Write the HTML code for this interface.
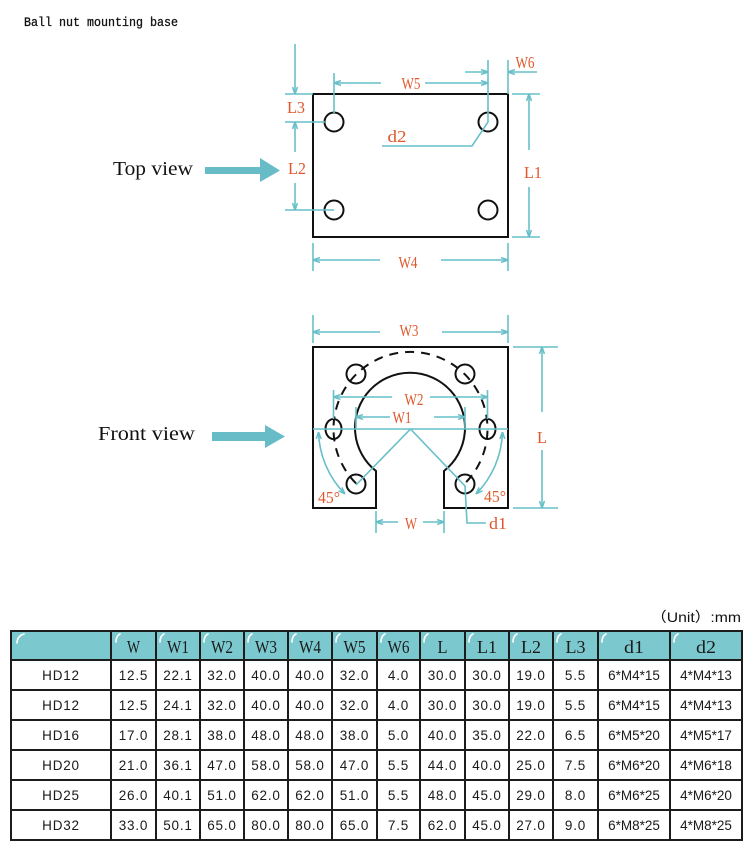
<!DOCTYPE html>
<html><head><meta charset="utf-8"><style>
html,body{margin:0;padding:0;background:#fff;}
svg{display:block;}
.t{fill:none;stroke:#67bfc8;stroke-width:1.6;}
.k{fill:none;stroke:#111;stroke-width:2;}
.o{font-family:"Liberation Serif",serif;font-size:17px;fill:#e0572b;text-anchor:middle;}
.h{font-family:"Liberation Serif",serif;font-size:18px;fill:#1a1a1a;text-anchor:middle;}
.d{font-family:"Liberation Sans","Noto Sans CJK SC",sans-serif;font-size:13.5px;fill:#1a1a1a;text-anchor:middle;letter-spacing:0.8px;}
</style></head><body>
<svg width="750" height="860" viewBox="0 0 750 860" xmlns="http://www.w3.org/2000/svg">
<defs>
<marker id="ar" viewBox="0 0 10 10" refX="10" refY="5" markerWidth="7" markerHeight="7" orient="auto-start-reverse" markerUnits="userSpaceOnUse">
<path d="M0,1.5 L10,5 L0,8.5" fill="none" stroke="#67bfc8" stroke-width="2.2"/>
</marker>
</defs>

<text x="24" y="26" font-family="Liberation Mono, monospace" font-size="12.5" fill="#111" stroke="#111" stroke-width="0.3" textLength="154" lengthAdjust="spacingAndGlyphs">Ball nut mounting base</text>

<text x="113" y="175" font-family="Liberation Serif, serif" font-size="20" fill="#111" textLength="80" lengthAdjust="spacingAndGlyphs">Top view</text>
<path d="M205,167 H260 V158 L280,170.5 L260,182 V174 H205 Z" fill="#67bcc7"/>

<text x="98" y="440" font-family="Liberation Serif, serif" font-size="20" fill="#111" textLength="97" lengthAdjust="spacingAndGlyphs">Front view</text>
<path d="M212,432 H265 V425 L285,436.5 L265,448 V441 H212 Z" fill="#67bcc7"/>

<rect x="313" y="94" width="195" height="143" class="k"/>
<circle cx="334" cy="122" r="9.5" class="k"/>
<circle cx="488" cy="122" r="9.5" class="k"/>
<circle cx="334" cy="210" r="9.5" class="k"/>
<circle cx="488" cy="210" r="9.5" class="k"/>

<g class="t">
<line x1="334" y1="73" x2="334" y2="113"/>
<line x1="488" y1="60" x2="488" y2="122"/>
<path d="M381,83 H334" marker-end="url(#ar)"/>
<path d="M425,83 H488" marker-end="url(#ar)"/>
<path d="M465,72 H488" marker-end="url(#ar)"/>
<path d="M537,72 H508" marker-end="url(#ar)"/>
<line x1="508" y1="60" x2="508" y2="94"/>
<path d="M295,44 V94" marker-end="url(#ar)"/>
<line x1="285" y1="94" x2="313" y2="94"/>
<line x1="285" y1="122" x2="325" y2="122"/>
<path d="M295,152 V122" marker-end="url(#ar)"/>
<path d="M295,183 V210" marker-end="url(#ar)"/>
<line x1="285" y1="210" x2="334" y2="210"/>
<path d="M529,150 V94" marker-end="url(#ar)"/>
<path d="M529,187 V237" marker-end="url(#ar)"/>
<line x1="512" y1="94" x2="540" y2="94"/>
<line x1="512" y1="237" x2="540" y2="237"/>
<path d="M380,260 H313" marker-end="url(#ar)"/>
<path d="M441,260 H508" marker-end="url(#ar)"/>
<line x1="313" y1="243" x2="313" y2="271"/>
<line x1="508" y1="243" x2="508" y2="271"/>
<path d="M488,122 L472,146 H382"/>
</g>

<text x="411" y="89" class="o" textLength="19" lengthAdjust="spacingAndGlyphs">W5</text>
<text x="525" y="68" class="o" textLength="19" lengthAdjust="spacingAndGlyphs">W6</text>
<text x="296" y="113" class="o" textLength="18" lengthAdjust="spacingAndGlyphs">L3</text>
<text x="297" y="174" class="o" textLength="18" lengthAdjust="spacingAndGlyphs">L2</text>
<text x="533" y="178" class="o" textLength="18" lengthAdjust="spacingAndGlyphs">L1</text>
<text x="408" y="268" class="o" textLength="19" lengthAdjust="spacingAndGlyphs">W4</text>
<text x="397" y="142" class="o" textLength="19" lengthAdjust="spacingAndGlyphs">d2</text>

<path d="M313,347 H508 V508 H444 V471 A55,55 0 1 0 376,471 V508 H313 Z" class="k"/>
<path d="M356.1,483.4 A77,77 0 1 1 464.9,483.4" fill="none" stroke="#111" stroke-width="2" stroke-dasharray="9 7"/>
<ellipse cx="333.5" cy="429" rx="8" ry="10" class="k"/>
<ellipse cx="487.5" cy="429" rx="8" ry="10" class="k"/>
<circle cx="356" cy="374" r="9.5" class="k"/>
<circle cx="465" cy="374" r="9.5" class="k"/>
<circle cx="356" cy="484" r="9.5" class="k"/>
<circle cx="465" cy="484" r="9.5" class="k"/>

<g class="t">
<line x1="313" y1="429" x2="508" y2="429"/>
<path d="M410.5,429 L356,485"/>
<path d="M410.5,429 L465,486 L467,523 H486"/>
<path d="M392,397 H333.5" marker-end="url(#ar)"/>
<path d="M430,397 H487.5" marker-end="url(#ar)"/>
<line x1="333.5" y1="390" x2="333.5" y2="419"/>
<line x1="487.5" y1="390" x2="487.5" y2="419"/>
<path d="M390,417 H356" marker-end="url(#ar)"/>
<path d="M434,417 H465" marker-end="url(#ar)"/>
<line x1="356" y1="407" x2="356" y2="429"/>
<line x1="465" y1="407" x2="465" y2="429"/>
<path d="M380,332 H313" marker-end="url(#ar)"/>
<path d="M442,332 H508" marker-end="url(#ar)"/>
<line x1="313" y1="315" x2="313" y2="343"/>
<line x1="508" y1="315" x2="508" y2="343"/>
<path d="M542,412 V347" marker-end="url(#ar)"/>
<path d="M542,450 V508" marker-end="url(#ar)"/>
<line x1="513" y1="347" x2="558" y2="347"/>
<line x1="513" y1="508" x2="558" y2="508"/>
<path d="M398,522 H376" marker-end="url(#ar)"/>
<path d="M423,522 H444" marker-end="url(#ar)"/>
<line x1="376" y1="511" x2="376" y2="533"/>
<line x1="444" y1="511" x2="444" y2="533"/>
<path d="M318.5,432 A92,92 0 0 0 345,494" marker-start="url(#ar)" marker-end="url(#ar)"/>
<path d="M502.5,432 A92,92 0 0 1 476,494" marker-start="url(#ar)" marker-end="url(#ar)"/>
</g>

<text x="409" y="336" class="o" textLength="19" lengthAdjust="spacingAndGlyphs">W3</text>
<text x="414" y="405" class="o" textLength="19" lengthAdjust="spacingAndGlyphs">W2</text>
<text x="402" y="423" class="o" textLength="19" lengthAdjust="spacingAndGlyphs">W1</text>
<text x="542" y="443" class="o" textLength="10" lengthAdjust="spacingAndGlyphs">L</text>
<text x="411" y="529" class="o" textLength="12" lengthAdjust="spacingAndGlyphs">W</text>
<text x="498" y="529" class="o" textLength="18" lengthAdjust="spacingAndGlyphs">d1</text>
<text x="329" y="503" class="o" font-size="14" textLength="22" lengthAdjust="spacingAndGlyphs">45°</text>
<text x="495" y="502" class="o" font-size="14" textLength="22" lengthAdjust="spacingAndGlyphs">45°</text>

<text x="741" y="622" font-family="Liberation Sans, Noto Sans CJK SC, sans-serif" font-size="14" fill="#111" text-anchor="end" textLength="90" lengthAdjust="spacingAndGlyphs">（Unit）:mm</text>

<rect x="11" y="631" width="731" height="29" fill="#7bc9cf"/>
<g fill="none" stroke="#fff" stroke-width="1.6" stroke-linecap="round">
<path d="M17,643 Q17,636 24,634"/>
<path d="M116,642 Q116,636 120,634"/>
<path d="M160,642 Q160,636 164,634"/>
<path d="M204,642 Q204,636 208,634"/>
<path d="M248,642 Q248,636 252,634"/>
<path d="M292,642 Q292,636 296,634"/>
<path d="M336,642 Q336,636 340,634"/>
<path d="M381,642 Q381,636 385,634"/>
<path d="M424,642 Q424,636 428,634"/>
<path d="M469,642 Q469,636 473,634"/>
<path d="M513,642 Q513,636 517,634"/>
<path d="M557,642 Q557,636 561,634"/>
<path d="M602,642 Q602,636 606,634"/>
<path d="M674,642 Q674,636 678,634"/>
</g>

<g stroke="#1c1c1c" stroke-width="2">
<rect x="11" y="631" width="731" height="209" fill="none"/>
<line x1="11" y1="660" x2="742" y2="660"/>
<line x1="11" y1="690" x2="742" y2="690"/>
<line x1="11" y1="720" x2="742" y2="720"/>
<line x1="11" y1="750" x2="742" y2="750"/>
<line x1="11" y1="780" x2="742" y2="780"/>
<line x1="11" y1="810" x2="742" y2="810"/>
<line x1="111" y1="631" x2="111" y2="840"/>
<line x1="156" y1="631" x2="156" y2="840"/>
<line x1="200" y1="631" x2="200" y2="840"/>
<line x1="244" y1="631" x2="244" y2="840"/>
<line x1="288" y1="631" x2="288" y2="840"/>
<line x1="332" y1="631" x2="332" y2="840"/>
<line x1="377" y1="631" x2="377" y2="840"/>
<line x1="420" y1="631" x2="420" y2="840"/>
<line x1="465" y1="631" x2="465" y2="840"/>
<line x1="509" y1="631" x2="509" y2="840"/>
<line x1="553" y1="631" x2="553" y2="840"/>
<line x1="598" y1="631" x2="598" y2="840"/>
<line x1="670" y1="631" x2="670" y2="840"/>
</g>

<g class="h">
<text x="133.5" y="653" textLength="13" lengthAdjust="spacingAndGlyphs">W</text>
<text x="178" y="653" textLength="22" lengthAdjust="spacingAndGlyphs">W1</text>
<text x="222" y="653" textLength="22" lengthAdjust="spacingAndGlyphs">W2</text>
<text x="266" y="653" textLength="22" lengthAdjust="spacingAndGlyphs">W3</text>
<text x="310" y="653" textLength="22" lengthAdjust="spacingAndGlyphs">W4</text>
<text x="354.5" y="653" textLength="22" lengthAdjust="spacingAndGlyphs">W5</text>
<text x="398.5" y="653" textLength="22" lengthAdjust="spacingAndGlyphs">W6</text>
<text x="442.5" y="653" textLength="10" lengthAdjust="spacingAndGlyphs">L</text>
<text x="487" y="653" textLength="20" lengthAdjust="spacingAndGlyphs">L1</text>
<text x="531" y="653" textLength="20" lengthAdjust="spacingAndGlyphs">L2</text>
<text x="575.5" y="653" textLength="20" lengthAdjust="spacingAndGlyphs">L3</text>
<text x="634" y="653" textLength="20" lengthAdjust="spacingAndGlyphs">d1</text>
<text x="706" y="653" textLength="20" lengthAdjust="spacingAndGlyphs">d2</text>
</g>

<g class="d">
<text x="61" y="680">HD12</text><text x="133.5" y="680">12.5</text><text x="178" y="680">22.1</text><text x="222" y="680">32.0</text><text x="266" y="680">40.0</text><text x="310" y="680">40.0</text><text x="354.5" y="680">32.0</text><text x="398.5" y="680">4.0</text><text x="442.5" y="680">30.0</text><text x="487" y="680">30.0</text><text x="531" y="680">19.0</text><text x="575.5" y="680">5.5</text><text x="634" y="680" letter-spacing="0">6*M4*15</text><text x="706" y="680" letter-spacing="0">4*M4*13</text>

<text x="61" y="710">HD12</text><text x="133.5" y="710">12.5</text><text x="178" y="710">24.1</text><text x="222" y="710">32.0</text><text x="266" y="710">40.0</text><text x="310" y="710">40.0</text><text x="354.5" y="710">32.0</text><text x="398.5" y="710">4.0</text><text x="442.5" y="710">30.0</text><text x="487" y="710">30.0</text><text x="531" y="710">19.0</text><text x="575.5" y="710">5.5</text><text x="634" y="710" letter-spacing="0">6*M4*15</text><text x="706" y="710" letter-spacing="0">4*M4*13</text>

<text x="61" y="740">HD16</text><text x="133.5" y="740">17.0</text><text x="178" y="740">28.1</text><text x="222" y="740">38.0</text><text x="266" y="740">48.0</text><text x="310" y="740">48.0</text><text x="354.5" y="740">38.0</text><text x="398.5" y="740">5.0</text><text x="442.5" y="740">40.0</text><text x="487" y="740">35.0</text><text x="531" y="740">22.0</text><text x="575.5" y="740">6.5</text><text x="634" y="740" letter-spacing="0">6*M5*20</text><text x="706" y="740" letter-spacing="0">4*M5*17</text>

<text x="61" y="770">HD20</text><text x="133.5" y="770">21.0</text><text x="178" y="770">36.1</text><text x="222" y="770">47.0</text><text x="266" y="770">58.0</text><text x="310" y="770">58.0</text><text x="354.5" y="770">47.0</text><text x="398.5" y="770">5.5</text><text x="442.5" y="770">44.0</text><text x="487" y="770">40.0</text><text x="531" y="770">25.0</text><text x="575.5" y="770">7.5</text><text x="634" y="770" letter-spacing="0">6*M6*20</text><text x="706" y="770" letter-spacing="0">4*M6*18</text>

<text x="61" y="800">HD25</text><text x="133.5" y="800">26.0</text><text x="178" y="800">40.1</text><text x="222" y="800">51.0</text><text x="266" y="800">62.0</text><text x="310" y="800">62.0</text><text x="354.5" y="800">51.0</text><text x="398.5" y="800">5.5</text><text x="442.5" y="800">48.0</text><text x="487" y="800">45.0</text><text x="531" y="800">29.0</text><text x="575.5" y="800">8.0</text><text x="634" y="800" letter-spacing="0">6*M6*25</text><text x="706" y="800" letter-spacing="0">4*M6*20</text>

<text x="61" y="830">HD32</text><text x="133.5" y="830">33.0</text><text x="178" y="830">50.1</text><text x="222" y="830">65.0</text><text x="266" y="830">80.0</text><text x="310" y="830">80.0</text><text x="354.5" y="830">65.0</text><text x="398.5" y="830">7.5</text><text x="442.5" y="830">62.0</text><text x="487" y="830">45.0</text><text x="531" y="830">27.0</text><text x="575.5" y="830">9.0</text><text x="634" y="830" letter-spacing="0">6*M8*25</text><text x="706" y="830" letter-spacing="0">4*M8*25</text>
</g>
</svg>
</body></html>
